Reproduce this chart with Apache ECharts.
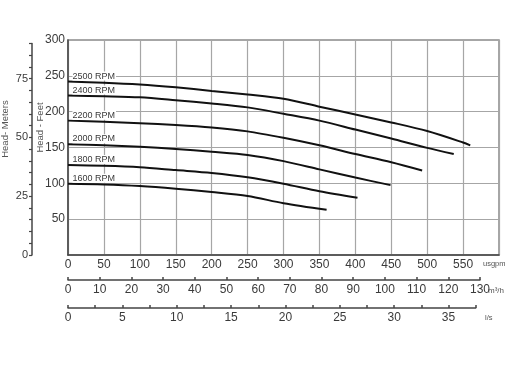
<!DOCTYPE html>
<html>
<head>
<meta charset="utf-8">
<script src="https://cdn.jsdelivr.net/npm/echarts@6/dist/echarts.min.js"></script>
<style>html,body{margin:0;padding:0;background:#fff}#c{width:513px;height:365px}</style>
</head>
<body>
<div id="c"></div>
<script>
// ---- data (flow in usgpm, head in feet) ----
const rpmNames = ['2500 RPM', '2400 RPM', '2200 RPM', '2000 RPM', '1800 RPM', '1600 RPM'];
const flow2500 = [0, 50, 100, 150, 200, 250, 300, 350, 400, 450, 500, 550, 560];
const head2500 = [242, 240.5, 238, 234, 229, 224, 218, 207, 196, 185, 173, 157, 153];
const flow2400 = [0, 50, 100, 150, 200, 250, 300, 350, 400, 450, 500, 537];
const head2400 = [222.5, 221.5, 220, 216, 211.5, 206, 197, 187.5, 175, 162.5, 149.5, 141];
const flow2200 = [0, 50, 100, 150, 200, 250, 300, 350, 400, 450, 493];
const head2200 = [187.5, 186, 184, 181.5, 178, 172.5, 163.5, 153, 141, 129.5, 118];
const flow2000 = [0, 50, 100, 150, 200, 250, 300, 350, 400, 449];
const head2000 = [154.5, 153, 151, 148, 144, 139.5, 131, 119.5, 108, 97.5];
const flow1800 = [0, 50, 100, 150, 200, 250, 300, 350, 403];
const head1800 = [125.5, 124.5, 122.5, 118.5, 114.5, 108.5, 99.5, 89, 80];
const flow1600 = [0, 50, 100, 150, 200, 250, 300, 360];
const head1600 = [99.5, 98.5, 96.3, 92.6, 88, 82.4, 72.2, 63];
const flows = [flow2500, flow2400, flow2200, flow2000, flow1800, flow1600];
const heads = [head2500, head2400, head2200, head2000, head1800, head1600];

// axis ranges / ticks
const usgpmMax = 600, usgpmStep = 50;
const feetMax = 300, feetStep = 50;
const metersMax = 90, metersStep = 5, metersLabelStep = 25;
const m3hMax = 130, m3hStep = 10;
const lsMax = 37.5, lsStep = 2.5, lsLabelStep = 5;

const chart = echarts.init(document.getElementById('c'), null, {renderer: 'canvas'});
const FONT = 'Liberation Sans, Arial, sans-serif';
const txt = '#3a3a3a';

const series = rpmNames.map((name, i) => ({
  type: 'line',
  name: name,
  xAxisIndex: 0, yAxisIndex: 0,
  smooth: 0.3,
  symbol: 'circle',
  symbolSize: 1,
  showSymbol: true,
  silent: true,
  emphasis: {disabled: true},
  lineStyle: {color: '#111', width: 2},
  itemStyle: {color: 'rgba(0,0,0,0)', borderWidth: 0},
  data: flows[i].map((q, j) => {
    const item = {value: [q, heads[i][j]]};
    if (j === 0) {
      item.label = {
        show: true, formatter: name, position: [5, -5],
        align: 'left', verticalAlign: 'middle',
        fontFamily: FONT, fontSize: 9, color: txt,
        backgroundColor: '#fff', padding: [0, 1, 0, 0]
      };
    }
    return item;
  }),
  label: {show: false},
  z: 5
}));

const hiddenAxis = (gi) => ({gridIndex: gi, type: 'value', show: false, min: 0, max: 1});

chart.setOption({
  animation: false,
  backgroundColor: '#fff',
  grid: [
    {left: 68, top: 40, width: 431, height: 215, show: true, borderColor: '#8a8a8a', borderWidth: 1.5, containLabel: false},
    {left: 32, top: 43.4, width: 1, height: 211.6, containLabel: false},
    {left: 68, top: 279, width: 412, height: 1, containLabel: false},
    {left: 68, top: 307, width: 407.7, height: 1, containLabel: false}
  ],
  xAxis: [
    {gridIndex: 0, type: 'value', min: 0, max: usgpmMax, interval: usgpmStep,
     axisLine: {show: true, lineStyle: {color: '#444', width: 1.5}},
     axisTick: {show: false},
     splitLine: {show: true, lineStyle: {color: '#a6a6a6', width: 1.2}},
     axisLabel: {fontFamily: FONT, fontSize: 12, color: txt, margin: 4,
       formatter: v => v >= usgpmMax ? '' : String(v)}},
    hiddenAxis(1),
    {gridIndex: 2, type: 'value', position: 'bottom', min: 0, max: m3hMax, interval: m3hStep,
     axisLine: {show: true, lineStyle: {color: '#444', width: 1.5}},
     axisTick: {show: true, inside: true, length: 3, lineStyle: {color: '#444', width: 1.5}},
     splitLine: {show: false},
     axisLabel: {fontFamily: FONT, fontSize: 12, color: txt, margin: 4}},
    {gridIndex: 3, type: 'value', position: 'bottom', min: 0, max: lsMax, interval: lsStep,
     axisLine: {show: true, lineStyle: {color: '#444', width: 1.5}},
     axisTick: {show: true, inside: true, length: 3, lineStyle: {color: '#444', width: 1.5}},
     splitLine: {show: false},
     axisLabel: {fontFamily: FONT, fontSize: 12, color: txt, margin: 4,
       formatter: v => (v % lsLabelStep === 0) ? String(v) : ''}}
  ],
  yAxis: [
    {gridIndex: 0, type: 'value', min: 0, max: feetMax, interval: feetStep,
     axisLine: {show: true, lineStyle: {color: '#444', width: 1.5}},
     axisTick: {show: false},
     splitLine: {show: true, lineStyle: {color: '#a6a6a6', width: 1.2}},
     axisLabel: {fontFamily: FONT, fontSize: 12, color: txt, margin: 3,
       formatter: v => v === 0 ? '' : String(v)}},
    {gridIndex: 1, type: 'value', position: 'left', min: 0, max: metersMax, interval: metersStep,
     axisLine: {show: true, lineStyle: {color: '#444', width: 1.5}},
     axisTick: {show: true, inside: false, length: 3, lineStyle: {color: '#444', width: 1.2}},
     splitLine: {show: false},
     axisLabel: {fontFamily: FONT, fontSize: 11, color: txt, margin: 4,
       formatter: v => (v % metersLabelStep === 0) ? String(v) : ''}},
    hiddenAxis(2),
    hiddenAxis(3)
  ],
  graphic: [
    {type: 'text', silent: true, x: 5, y: 129, rotation: Math.PI / 2,
     style: {text: 'Head- Meters', font: '9.5px ' + FONT, fill: '#555', align: 'center', verticalAlign: 'middle'}},
    {type: 'text', silent: true, x: 40, y: 127.5, rotation: Math.PI / 2,
     style: {text: 'Head - Feet', font: '9.5px ' + FONT, fill: '#555', align: 'center', verticalAlign: 'middle'}},
    {type: 'text', silent: true, x: 483, y: 264,
     style: {text: 'usgpm', font: '7.5px ' + FONT, fill: '#555', align: 'left', verticalAlign: 'middle'}},
    {type: 'text', silent: true, x: 488, y: 291,
     style: {text: 'm³/h', font: '8px ' + FONT, fill: '#555', align: 'left', verticalAlign: 'middle'}},
    {type: 'text', silent: true, x: 485, y: 318,
     style: {text: 'l/s', font: '7.5px ' + FONT, fill: '#555', align: 'left', verticalAlign: 'middle'}}
  ],
  series: series
});
</script>
</body>
</html>
